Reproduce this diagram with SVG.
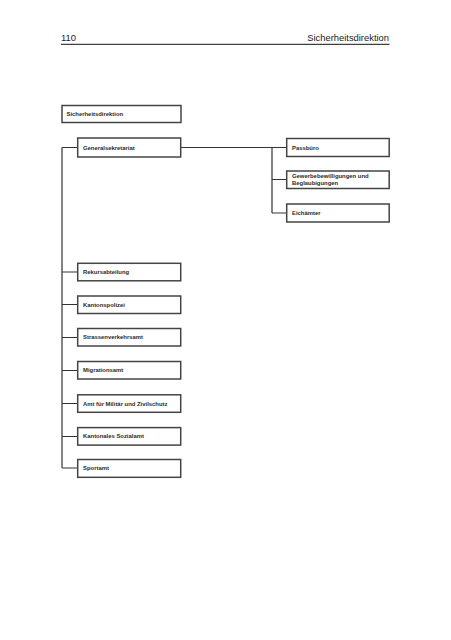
<svg xmlns="http://www.w3.org/2000/svg" width="451" height="640" viewBox="0 0 451 640">
<style>
.box{fill:#fff;stroke:#444;stroke-width:1.5}
.lbl{font-family:"Liberation Sans",Arial,sans-serif;font-weight:bold;font-size:5.9px;fill:#2a2a2a}
.hdr{font-family:"Liberation Sans",Arial,sans-serif;font-size:9.4px;fill:#222}
.con{fill:none;stroke:#333;stroke-width:1.2}
</style>
<rect width="451" height="640" fill="#fff"/>
<g id="header">
<text class="hdr" x="61" y="40.7">110</text>
<text class="hdr" x="389" y="40.7" text-anchor="end">Sicherheitsdirektion</text>
<line x1="61" y1="44.3" x2="389.5" y2="44.3" stroke="#111" stroke-width="1"/>
</g>
<g id="connectors">
<path class="con" d="M62 147.5 V468 M62 147.5 H77.7 M62 272 H77.7 M62 304.5 H77.7 M62 337.5 H77.7 M62 370.5 H77.7 M62 403.5 H77.7 M62 436.5 H77.7 M62 468 H77.7"/>
<path class="con" d="M181 147.5 H286.7 M272 147.5 V213 M272 179.5 H286.7 M272 213 H286.7"/>
</g>
<g id="n-sicherheitsdirektion"><rect class="box" x="62" y="105.5" width="119" height="17"/><text class="lbl" x="66.5" y="116.2">Sicherheitsdirektion</text></g>
<g id="n-generalsekretariat"><rect class="box" x="77.7" y="138" width="103" height="19"/><text class="lbl" x="83" y="149.6">Generalsekretariat</text></g>
<g id="n-passbuero"><rect class="box" x="286.7" y="138.5" width="102.5" height="18"/><text class="lbl" x="292" y="149.6">Passbüro</text></g>
<g id="n-gewerbe"><rect class="box" x="286.7" y="171" width="102.5" height="17.5"/><text class="lbl" x="292" y="178.3">Gewerbebewilligungen und</text><text class="lbl" x="292" y="184.6">Beglaubigungen</text></g>
<g id="n-eichaemter"><rect class="box" x="286.7" y="204" width="102.5" height="18"/><text class="lbl" x="292" y="215.1">Eichämter</text></g>
<g id="n-rekurs"><rect class="box" x="77.7" y="263.3" width="103" height="17.5"/><text class="lbl" x="83" y="274.1">Rekursabteilung</text></g>
<g id="n-kantonspolizei"><rect class="box" x="77.7" y="296" width="103" height="17.5"/><text class="lbl" x="83" y="306.8">Kantonspolizei</text></g>
<g id="n-strassenverkehrsamt"><rect class="box" x="77.7" y="328.5" width="103" height="17.5"/><text class="lbl" x="83" y="339.3">Strassenverkehrsamt</text></g>
<g id="n-migrationsamt"><rect class="box" x="77.7" y="361.5" width="103" height="17.5"/><text class="lbl" x="83" y="372.3">Migrationsamt</text></g>
<g id="n-militaer"><rect class="box" x="77.7" y="394.8" width="103" height="17.5"/><text class="lbl" x="83" y="405.6">Amt für Militär und Zivilschutz</text></g>
<g id="n-sozialamt"><rect class="box" x="77.7" y="427.6" width="103" height="17.5"/><text class="lbl" x="83" y="438.4">Kantonales Sozialamt</text></g>
<g id="n-sportamt"><rect class="box" x="77.7" y="459.5" width="103" height="17.8"/><text class="lbl" x="83" y="470.4">Sportamt</text></g>
</svg>
